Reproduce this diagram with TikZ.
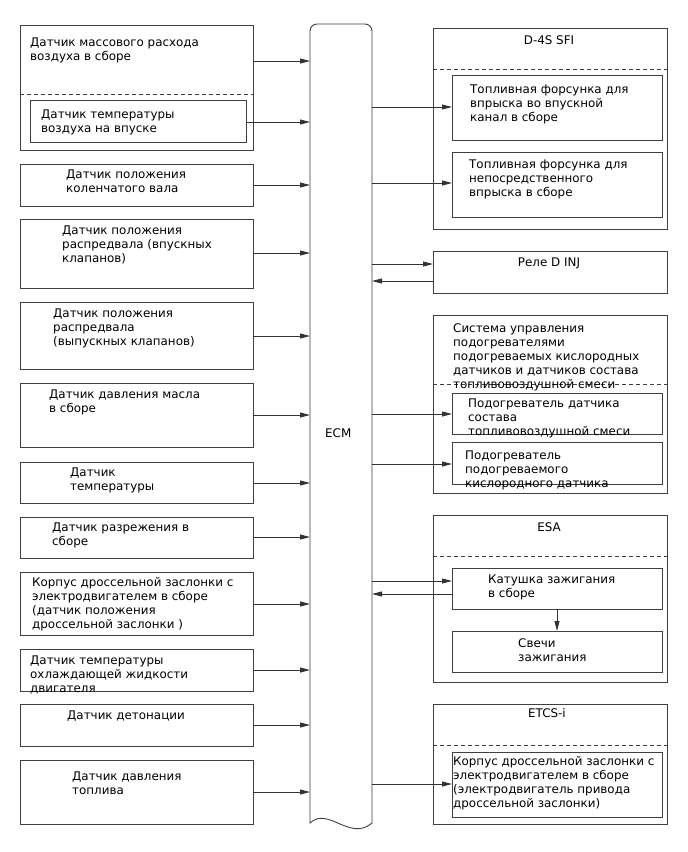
\documentclass[tikz,border=0pt]{standalone}
\usepackage{fontspec}
\setmainfont{DejaVu Sans}
\usetikzlibrary{arrows.meta}
\begin{document}
\begin{tikzpicture}[x=1pt,y=-1pt,
  boxst/.style={draw=black!75, line width=0.9pt, rectangle, inner sep=0pt, outer sep=0pt, anchor=north west},
  txt/.style={anchor=north west, inner sep=0pt, align=left, font=\fontsize{11.9}{14}\selectfont},
  ttl/.style={anchor=north, inner sep=0pt, font=\fontsize{11.9}{14}\selectfont},
  dsh/.style={draw=black!75, line width=0.9pt, dash pattern=on 4pt off 3pt},
  arr/.style={draw=black!80, line width=0.9pt, -{Triangle[length=10pt,width=5pt]}},
  ecmline/.style={draw=black!75, line width=0.9pt},
]
\fill[white] (0,0) rectangle (688,852);
\path[use as bounding box] (0,0) rectangle (688,852);

% ---------- left boxes ----------
\node[boxst, minimum width=233pt, minimum height=125pt] (maf) at (20,25) {};
\node[boxst, minimum width=216pt, minimum height=42pt] (iat) at (30,100) {};
\node[boxst, minimum width=233pt, minimum height=42pt] (crank) at (20,164) {};
\node[boxst, minimum width=233pt, minimum height=69pt] (camin) at (20,219) {};
\node[boxst, minimum width=233pt, minimum height=67pt] (camex) at (20,302) {};
\node[boxst, minimum width=233pt, minimum height=64pt] (oil) at (20,383) {};
\node[boxst, minimum width=233pt, minimum height=41pt] (temp) at (20,462) {};
\node[boxst, minimum width=233pt, minimum height=41pt] (vac) at (20,517) {};
\node[boxst, minimum width=233pt, minimum height=63pt] (thr) at (20,572) {};
\node[boxst, minimum width=233pt, minimum height=42pt] (cool) at (20,649) {};
\node[boxst, minimum width=233pt, minimum height=42pt] (knock) at (20,704) {};
\node[boxst, minimum width=233pt, minimum height=64pt] (fuel) at (20,760) {};
\draw[dsh] (maf.west |- 0,94) -- (maf.east |- 0,94);

\node[txt] (mafT) at (30,36.2) {\strut Датчик массового расхода\\воздуха в сборе};
\node[txt] (iatT) at (41,108.2) {\strut Датчик температуры\\воздуха на впуске};
\node[txt] (crankT) at (66,168.2) {\strut Датчик положения\\коленчатого вала};
\node[txt] (caminT) at (62,224.2) {\strut Датчик положения\\распредвала (впускных\\клапанов)};
\node[txt] (camexT) at (53,307.2) {\strut Датчик положения\\распредвала\\(выпускных клапанов)};
\node[txt] (oilT) at (49,388.2) {\strut Датчик давления масла\\в сборе};
\node[txt] (tempT) at (70,466.2) {\strut Датчик\\температуры};
\node[txt] (vacT) at (52,521.2) {\strut Датчик разрежения в\\сборе};
\node[txt] (thrT) at (32,576.2) {\strut Корпус дроссельной заслонки с\\электродвигателем в сборе\\(датчик положения\\дроссельной заслонки )};
\node[txt] (coolT) at (30,654.2) {\strut Датчик температуры\\охлаждающей жидкости\\двигателя};
\node[txt] (knockT) at (67,709.2) {\strut Датчик детонации};
\node[txt] (fuelT) at (72,770.2) {\strut Датчик давления\\топлива};

% ---------- ECM ----------
\node[inner sep=0pt, outer sep=0pt, minimum width=62pt, minimum height=799pt, anchor=north west] (ecm) at (310,24) {};
\draw[ecmline] (ecm.south east) [rounded corners=7pt] -- (ecm.north east) -- (ecm.north west) [sharp corners] -- (ecm.south west) .. controls (328,806) and (350,842) .. (ecm.south east);
\node[txt, anchor=west] (ecmT) at (325,433) {ECM};

% ---------- right boxes ----------
\node[boxst, minimum width=234pt, minimum height=201pt] (sfi) at (433,28) {};
\node[boxst, minimum width=210pt, minimum height=65pt] (inj1) at (452,75) {};
\node[boxst, minimum width=210pt, minimum height=65pt] (inj2) at (452,152) {};
\node[boxst, minimum width=234pt, minimum height=42pt] (rele) at (433,251) {};
\node[boxst, minimum width=234pt, minimum height=178pt] (htr) at (433,315) {};
\node[boxst, minimum width=210pt, minimum height=41pt] (htrA) at (452,393) {};
\node[boxst, minimum width=210pt, minimum height=42pt] (htrB) at (452,442) {};
\node[boxst, minimum width=234pt, minimum height=167pt] (esa) at (433,515) {};
\node[boxst, minimum width=210pt, minimum height=41pt] (coil) at (452,568) {};
\node[boxst, minimum width=210pt, minimum height=41pt] (plug) at (452,631) {};
\node[boxst, minimum width=234pt, minimum height=120pt] (etcs) at (433,704) {};
\node[boxst, minimum width=210pt, minimum height=65pt] (etcsin) at (452,752) {};

\draw[dsh] (sfi.west |- 0,69) -- (sfi.east |- 0,69);
\draw[dsh] (htr.west |- 0,384) -- (htr.east |- 0,384);
\draw[dsh] (esa.west |- 0,556) -- (esa.east |- 0,556);
\draw[dsh] (etcs.west |- 0,745) -- (etcs.east |- 0,745);

\node[ttl] (sfiT) at (549,34.2) {\strut D-4S SFI};
\node[txt] (inj1T) at (470,83.2) {\strut Топливная форсунка для\\впрыска во впускной\\канал в сборе};
\node[txt] (inj2T) at (469,158.2) {\strut Топливная форсунка для\\непосредственного\\впрыска в сборе};
\node[ttl] (releT) at (549,256.2) {\strut Реле D INJ};
\node[txt] (htrT) at (453,322.2) {\strut Система управления\\подогревателями\\подогреваемых кислородных\\датчиков и датчиков состава\\топливовоздушной смеси};
\node[txt] (htrAT) at (468,397.2) {\strut Подогреватель датчика\\состава\\топливовоздушной смеси};
\node[txt] (htrBT) at (465,449.2) {\strut Подогреватель\\подогреваемого\\кислородного датчика};
\node[ttl] (esaT) at (549,521.2) {\strut ESA};
\node[txt] (coilT) at (488,573.2) {\strut Катушка зажигания\\в сборе};
\node[txt] (plugT) at (518,637.2) {\strut Свечи\\зажигания};
\node[ttl] (etcsT) at (547,707.2) {\strut ETCS-i};
\node[txt] (etcsinT) at (453,755.2) {\strut Корпус дроссельной заслонки с\\электродвигателем в сборе\\(электродвигатель привода\\дроссельной заслонки)};

% ---------- connectors: sensors to ECM ----------
\draw[arr] (maf.east |- 0,61) -- (ecm.west |- 0,61);
\draw[arr] (iat.east |- 0,122) -- (ecm.west |- 0,122);
\draw[arr] (crank.east |- 0,185) -- (ecm.west |- 0,185);
\draw[arr] (camin.east |- 0,253) -- (ecm.west |- 0,253);
\draw[arr] (camex.east |- 0,336) -- (ecm.west |- 0,336);
\draw[arr] (oil.east |- 0,415) -- (ecm.west |- 0,415);
\draw[arr] (temp.east |- 0,483) -- (ecm.west |- 0,483);
\draw[arr] (vac.east |- 0,537) -- (ecm.west |- 0,537);
\draw[arr] (thr.east |- 0,604) -- (ecm.west |- 0,604);
\draw[arr] (cool.east |- 0,670) -- (ecm.west |- 0,670);
\draw[arr] (knock.east |- 0,725) -- (ecm.west |- 0,725);
\draw[arr] (fuel.east |- 0,792) -- (ecm.west |- 0,792);

% ---------- connectors: ECM to actuators ----------
\draw[arr] (ecm.east |- 0,107) -- (inj1.west |- 0,107);
\draw[arr] (ecm.east |- 0,183) -- (inj2.west |- 0,183);
\draw[arr] (ecm.east |- 0,264) -- (rele.west |- 0,264);
\draw[arr] (rele.west |- 0,281) -- (ecm.east |- 0,281);
\draw[arr] (ecm.east |- 0,414) -- (htrA.west |- 0,414);
\draw[arr] (ecm.east |- 0,464) -- (htrB.west |- 0,464);
\draw[arr] (ecm.east |- 0,581) -- (coil.west |- 0,581);
\draw[arr] (coil.west |- 0,594) -- (ecm.east |- 0,594);
\draw[arr] (coil.south) -- (plug.north);
\draw[arr] (ecm.east |- 0,784) -- (etcsin.west |- 0,784);
\end{tikzpicture}
\end{document}
